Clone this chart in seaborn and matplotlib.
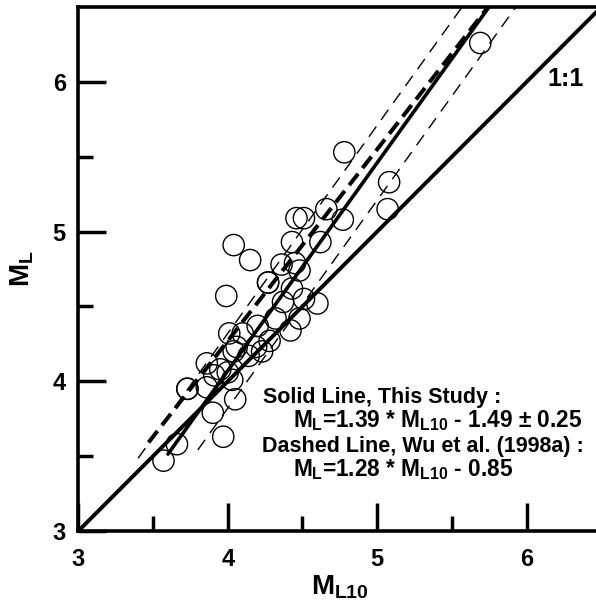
import numpy as np
import pandas as pd
import seaborn as sns
import matplotlib.pyplot as plt

ml10 = [5.69, 4.78, 5.08, 5.07, 4.66, 4.77, 4.46, 4.51, 4.62, 4.43,
        4.04, 4.15, 4.36, 4.45, 4.48, 4.27, 4.27, 3.99, 4.43, 4.60,
        4.51, 4.37, 4.32, 4.48, 4.42, 4.20, 4.01, 4.10, 4.28, 4.19,
        4.06, 4.23, 4.14, 4.04, 3.86, 3.95, 4.00, 3.91, 4.03, 3.73,
        3.73, 3.86, 4.05, 3.90, 3.97, 3.66, 3.57]
ml = [6.26, 5.53, 5.33, 5.15, 5.15, 5.08, 5.09, 5.09, 4.93, 4.93,
      4.91, 4.81, 4.78, 4.79, 4.74, 4.66, 4.66, 4.57, 4.62, 4.52,
      4.55, 4.53, 4.42, 4.42, 4.34, 4.37, 4.32, 4.32, 4.27, 4.23,
      4.23, 4.20, 4.17, 4.20, 4.12, 4.08, 4.06, 4.04, 4.01, 3.95,
      3.95, 3.96, 3.88, 3.79, 3.63, 3.58, 3.47]

# fitted relations
a_this, b_this, sd_this = 1.39, -1.49, 0.25
a_wu, b_wu = 1.28, -0.85

df = pd.DataFrame({'ML10': ml10, 'ML': ml})

sns.set_theme(style="ticks")
plt.rcParams['font.family'] = ['Liberation Sans', 'DejaVu Sans']
plt.rcParams['font.weight'] = 'bold'
plt.rcParams['mathtext.fontset'] = 'custom'
plt.rcParams['mathtext.rm'] = 'Liberation Sans:bold'
plt.rcParams['mathtext.it'] = 'Liberation Sans:bold'
plt.rcParams['mathtext.bf'] = 'Liberation Sans:bold'
plt.rcParams['mathtext.sf'] = 'Liberation Sans:bold'
for k in ['text.color', 'axes.labelcolor', 'xtick.color', 'ytick.color', 'axes.edgecolor']:
    plt.rcParams[k] = 'black'

fig = plt.figure(figsize=(5.96, 6.08), dpi=100)
# right edge of the frame runs just past the image
ax = fig.add_axes([0.1314, 0.1266, 0.8775, 0.8618])

# 1:1 line
ax.plot([3, 6.5], [3, 6.5], color='black', lw=2.8)

# this study and +/- sd
x = np.array([3.6, (6.5 - b_this) / a_this])
ax.plot(x, a_this * x + b_this, color='black', lw=2.6)
x = np.array([3.40, (6.5 - b_this - sd_this) / a_this])
ax.plot(x, a_this * x + b_this + sd_this, color='black', lw=1.0, dashes=(9, 6))
x = np.array([3.8, (6.5 - b_this + sd_this) / a_this])
ax.plot(x, a_this * x + b_this - sd_this, color='black', lw=1.0, dashes=(9, 6))

# Wu et al. (1998a)
x = np.array([3.47, (6.5 - b_wu) / a_wu])
ax.plot(x, a_wu * x + b_wu, color='black', lw=2.9, dashes=(3.6, 1.8))

sns.scatterplot(data=df, x='ML10', y='ML', ax=ax, s=235, marker='o',
                facecolor='none', edgecolor='black', linewidth=1.0, zorder=3)

ax.set_xlim(3, 6.5)
ax.set_ylim(3, 6.5)
ax.set_xticks([3, 4, 5, 6])
ax.set_yticks([3, 4, 5, 6])
ax.set_xticks([3.5, 4.5, 5.5], minor=True)
ax.set_yticks([3.5, 4.5, 5.5], minor=True)
ax.tick_params(which='major', direction='in', length=20, width=2.5,
               labelsize=17, top=False, right=False)
ax.tick_params(which='minor', direction='in', length=11, width=2.5,
               top=False, right=False)
ax.tick_params(axis='x', which='major', pad=12)
ax.tick_params(axis='y', which='major', pad=9)
for sp in ax.spines.values():
    sp.set_linewidth(2.6)

ax.set_xlabel(r'$M_{L10}$', fontsize=20, labelpad=2)
ax.set_ylabel(r'$M_L$', fontsize=20, labelpad=12)

ax.text(6.38, 6.02, '1:1', fontsize=18, fontweight='bold', ha='right', va='center')

fs = 15.5
fs_eq = 16.3
ax.text(4.234, 3.855, 'Solid Line, This Study :', fontsize=fs, va='baseline')
ax.text(4.437, 3.695, r'$M_L$=1.39 * $M_{L10}$ - 1.49 ± 0.25', fontsize=fs_eq, va='baseline')
ax.text(4.228, 3.53, 'Dashed Line, Wu et al. (1998a) :', fontsize=fs, va='baseline')
ax.text(4.437, 3.367, r'$M_L$=1.28 * $M_{L10}$ - 0.85', fontsize=fs_eq, va='baseline')

fig.savefig('out.png', dpi=100)
